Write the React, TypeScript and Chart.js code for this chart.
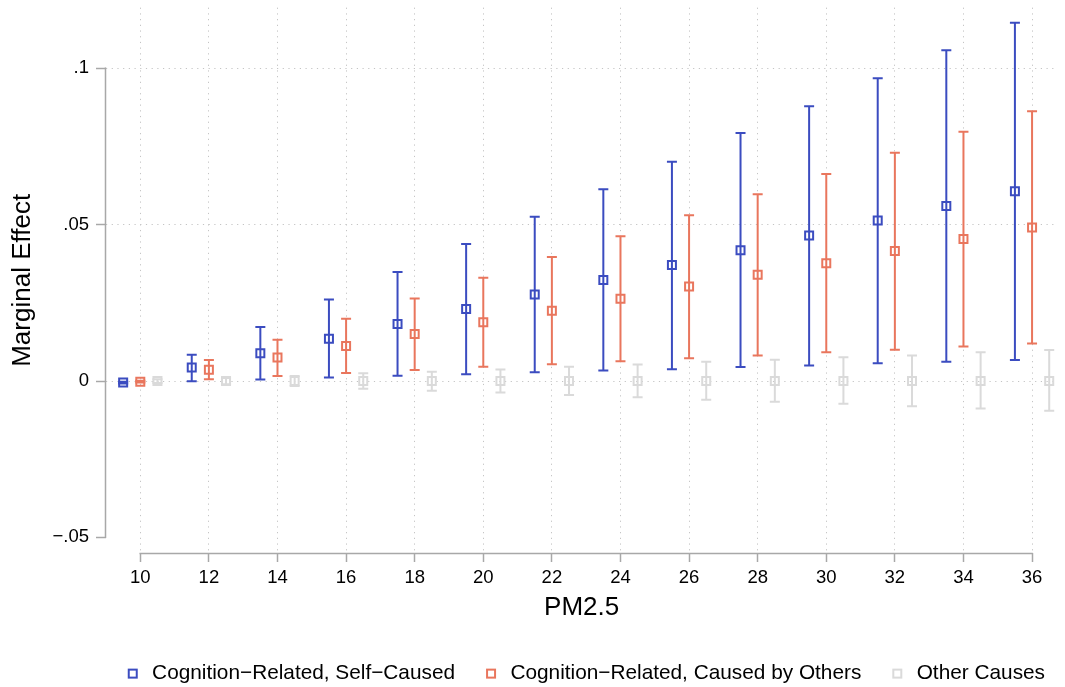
import React, { useEffect, useRef } from "react";
import { Chart, registerables } from "chart.js";

Chart.register(...registerables);

// ---- data ----
const pm25 = [10, 12, 14, 16, 18, 20, 22, 24, 26, 28, 30, 32, 34, 36];
const xTicks = [10, 12, 14, 16, 18, 20, 22, 24, 26, 28, 30, 32, 34, 36];
const yTicks = [-0.05, 0, 0.05, 0.1];
const yTickLabels = ["\u2212.05", "0", ".05", ".1"];
const seriesNames = [
  "Cognition\u2212Related, Self\u2212Caused",
  "Cognition\u2212Related, Caused by Others",
  "Other Causes",
];

const selfEst = [-0.0005, 0.0043, 0.0089, 0.0135, 0.0182, 0.023, 0.0277, 0.0323, 0.0371, 0.0418, 0.0465, 0.0513, 0.056, 0.0607];
const selfLo = [-0.0008, -0.0001, 0.0005, 0.0011, 0.0017, 0.0022, 0.0028, 0.0034, 0.0038, 0.0045, 0.005, 0.0057, 0.0062, 0.0067];
const selfHi = [-0.0002, 0.0084, 0.0173, 0.0261, 0.0349, 0.0438, 0.0525, 0.0613, 0.0701, 0.0793, 0.0879, 0.0968, 0.1058, 0.1146];

const othersEst = [-0.0002, 0.0036, 0.0075, 0.0112, 0.015, 0.0188, 0.0225, 0.0263, 0.0302, 0.034, 0.0377, 0.0416, 0.0454, 0.0491];
const othersLo = [-0.0005, 0.0006, 0.0016, 0.0026, 0.0035, 0.0046, 0.0054, 0.0063, 0.0073, 0.0082, 0.0092, 0.01, 0.011, 0.012];
const othersHi = [0.0001, 0.0067, 0.0132, 0.0199, 0.0264, 0.033, 0.0397, 0.0463, 0.053, 0.0597, 0.0662, 0.073, 0.0797, 0.0863];

const otherEst = [0, 0, 0, 0, 0, 0, 0, 0, 0, 0, 0, 0, 0, 0];
const otherLo = [-0.0006, -0.001, -0.0016, -0.0025, -0.0031, -0.0037, -0.0045, -0.0052, -0.006, -0.0066, -0.0073, -0.0081, -0.0088, -0.0095];
const otherHi = [0.0006, 0.001, 0.0016, 0.0025, 0.003, 0.0037, 0.0046, 0.0053, 0.0062, 0.0068, 0.0076, 0.0082, 0.0092, 0.0099];

// ---- style ----
const FONT = "'Liberation Sans', Arial, Helvetica, sans-serif";
const COLORS = ["#3b4cc0", "#e9765d", "#dadada"];
const OFFSETS = [-0.5, 0, 0.5];
const AXIS_COLOR = "#a8a8a8";
const GRID_COLOR = "#c4c4c4";

function buildPoints(est: number[], lo: number[], hi: number[], off: number) {
  return pm25.map((p, i) => ({ x: p + off, y: est[i], lo: lo[i], hi: hi[i] }));
}

function legendMarker(color: string) {
  const c = document.createElement("canvas");
  c.width = 34;
  c.height = 12;
  const g = c.getContext("2d")!;
  g.strokeStyle = color;
  g.lineWidth = 2;
  g.strokeRect(22 - 4, 6 - 4, 8, 8);
  return c;
}

const errorBars = {
  id: "errorBars",
  beforeDatasetsDraw(chart: any) {
    const { ctx } = chart;
    const xs = chart.scales.x;
    const ys = chart.scales.y;
    chart.data.datasets.forEach((ds: any) => {
      ctx.save();
      ctx.strokeStyle = ds.borderColor;
      ctx.lineWidth = 2;
      ds.data.forEach((pt: any) => {
        const px = xs.getPixelForValue(pt.x);
        const yl = ys.getPixelForValue(pt.lo);
        const yh = ys.getPixelForValue(pt.hi);
        ctx.beginPath();
        ctx.moveTo(px, yl);
        ctx.lineTo(px, yh);
        ctx.moveTo(px - 5, yl);
        ctx.lineTo(px + 5, yl);
        ctx.moveTo(px - 5, yh);
        ctx.lineTo(px + 5, yh);
        ctx.stroke();
      });
      ctx.restore();
    });
  },
};

const axisLines = {
  id: "axisLines",
  beforeDatasetsDraw(chart: any) {
    const { ctx, chartArea } = chart;
    const xs = chart.scales.x;
    const ys = chart.scales.y;
    ctx.save();
    ctx.strokeStyle = AXIS_COLOR;
    ctx.lineWidth = 1.5;
    ctx.beginPath();
    const lx = chartArea.left - 0.5;
    ctx.moveTo(lx, ys.getPixelForValue(yTicks[0]) + 0.75);
    ctx.lineTo(lx, ys.getPixelForValue(yTicks[yTicks.length - 1]) - 0.75);
    const by = chartArea.bottom + 0.5;
    ctx.moveTo(xs.getPixelForValue(xTicks[0]) - 0.75, by);
    ctx.lineTo(xs.getPixelForValue(xTicks[xTicks.length - 1]) + 0.75, by);
    ctx.stroke();
    ctx.restore();
  },
};

export default function App() {
  const ref = useRef<HTMLCanvasElement>(null);
  useEffect(() => {
    document.body.style.margin = "0";
    const markers = COLORS.map(legendMarker);
    const datasets = [
      buildPoints(selfEst, selfLo, selfHi, OFFSETS[0]),
      buildPoints(othersEst, othersLo, othersHi, OFFSETS[1]),
      buildPoints(otherEst, otherLo, otherHi, OFFSETS[2]),
    ].map((data, i) => ({
      type: "scatter" as const,
      label: seriesNames[i],
      data,
      borderColor: COLORS[i],
      backgroundColor: "rgba(0,0,0,0)",
      pointStyle: "rect" as const,
      pointRadius: 5.66,
      pointBorderWidth: 2,
      showLine: false,
    }));
    const chart = new Chart(ref.current!, {
      type: "scatter",
      data: { datasets: datasets as any },
      options: {
        animation: false,
        responsive: false,
        events: [],
        layout: { padding: { top: 7, right: 3, left: 0, bottom: 0 } },
        plugins: {
          tooltip: { enabled: false },
          legend: {
            position: "bottom",
            align: "end",
            labels: {
              usePointStyle: true,
              pointStyleWidth: 28,
              padding: 17,
              color: "#000",
              font: { family: FONT, size: 20.8 },
              generateLabels: (ch: any) =>
                ch.data.datasets.map((ds: any, i: number) => ({
                  text: ds.label,
                  fillStyle: "rgba(0,0,0,0)",
                  strokeStyle: ds.borderColor,
                  lineWidth: 2,
                  pointStyle: markers[i],
                  hidden: false,
                  datasetIndex: i,
                  fontColor: "#000",
                })),
            },
          },
        },
        scales: {
          x: {
            type: "linear",
            min: 9.0,
            max: 36.737,
            afterBuildTicks: (a: any) => {
              a.ticks = xTicks.map((v) => ({ value: v }));
            },
            afterFit: (s: any) => {
              s.height = 93.2;
              s.paddingLeft = 0;
              s.paddingRight = 0;
            },
            ticks: {
              color: "#000",
              font: { family: FONT, size: 18.5 },
              padding: 5,
              maxRotation: 0,
              autoSkip: false,
              callback: (v: any) => String(v),
            },
            grid: {
              color: GRID_COLOR,
              lineWidth: 1,
              tickLength: 9,
              tickColor: AXIS_COLOR,
              tickWidth: 1.5,
            },
            border: { display: false, dash: [1.2, 4.5] },
            title: {
              display: true,
              text: "PM2.5",
              color: "#000",
              font: { family: FONT, size: 26 },
              padding: { top: 0, bottom: 22.6 },
            },
          },
          y: {
            type: "linear",
            min: -0.055,
            max: 0.1194,
            afterBuildTicks: (a: any) => {
              a.ticks = yTicks.map((v) => ({ value: v }));
            },
            afterFit: (s: any) => {
              s.width = 106;
              s.paddingTop = 0;
              s.paddingBottom = 0;
            },
            ticks: {
              color: "#000",
              font: { family: FONT, size: 18.5 },
              padding: 7,
              callback: (_v: any, i: number) => yTickLabels[i],
            },
            grid: {
              color: (c: any) => (c.tick && c.tick.value === yTicks[0] ? "rgba(0,0,0,0)" : GRID_COLOR),
              lineWidth: 1,
              tickLength: 10,
              tickColor: AXIS_COLOR,
              tickWidth: 1.5,
            },
            border: { display: false, dash: [1.2, 4.5] },
            title: {
              display: true,
              text: "Marginal Effect",
              color: "#000",
              font: { family: FONT, size: 26 },
              padding: { top: 7.5, bottom: 0 },
            },
          },
        },
      } as any,
      plugins: [axisLines, errorBars],
    });
    return () => chart.destroy();
  }, []);
  return (
    <div style={{ width: 1065, height: 687, overflow: "hidden", background: "#fff" }}>
      <canvas ref={ref} width={1065} height={694} style={{ display: "block" }} />
    </div>
  );
}
